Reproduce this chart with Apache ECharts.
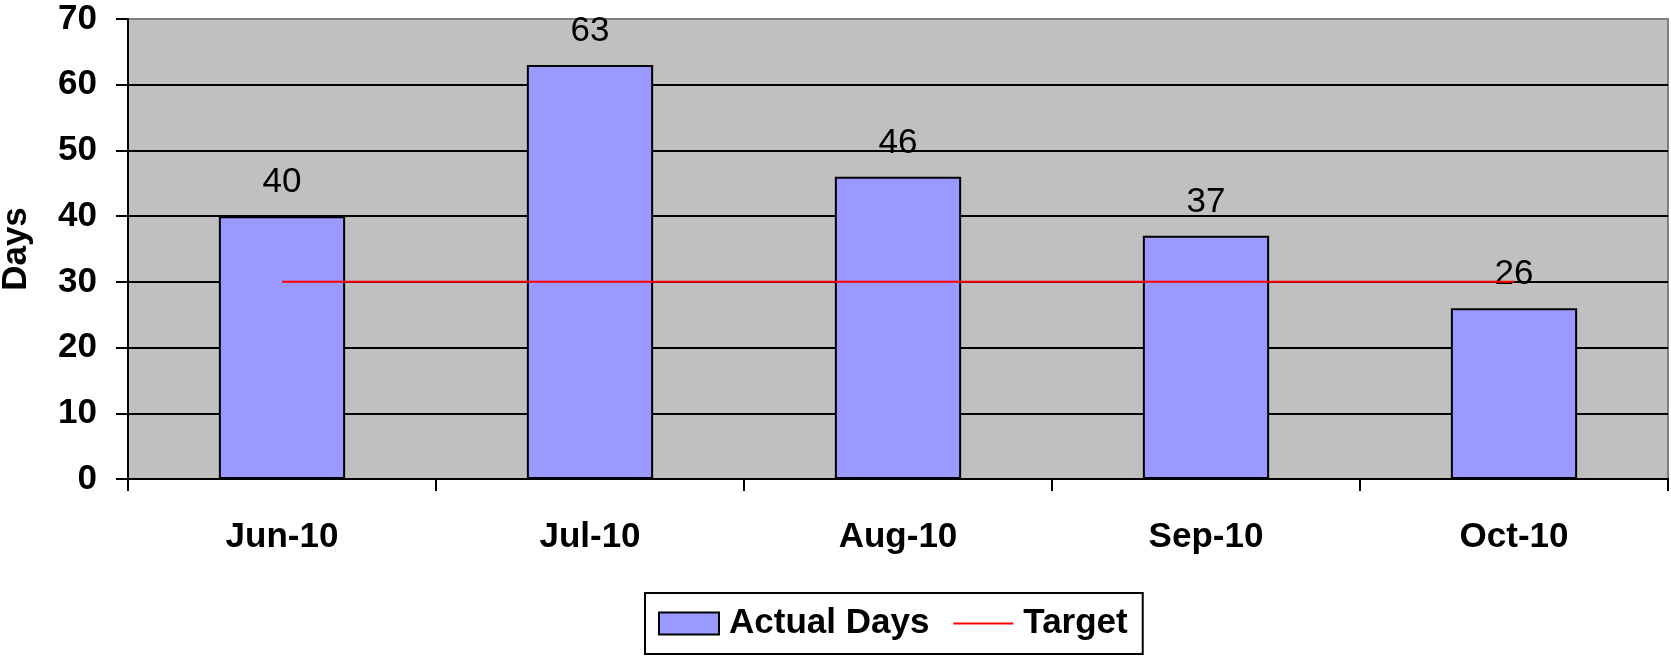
<!DOCTYPE html>
<html>
<head>
<meta charset="utf-8">
<script src="https://cdn.jsdelivr.net/npm/echarts@6/dist/echarts.min.js"></script>
<style>
html,body{margin:0;padding:0;background:#fff;}
#chart{width:1671px;height:656px;}
</style>
</head>
<body>
<div id="chart"></div>
<script>
const categories = ['Jun-10', 'Jul-10', 'Aug-10', 'Sep-10', 'Oct-10'];
const actualDays = [40, 63, 46, 37, 26];
const target = [30, 30, 30, 30, 30];
const yTicks = { min: 0, max: 70, interval: 10 };

const FONT = 'Arial, "Liberation Sans", sans-serif';
const chart = echarts.init(document.getElementById('chart'), null, { renderer: 'canvas' });
chart.setOption({
  animation: false,
  textStyle: { fontFamily: FONT },
  grid: {
    left: 128, right: 3, top: 19, bottom: 177,
    containLabel: false,
    outerBoundsMode: 'none',
    show: true, backgroundColor: '#C0C0C0', borderColor: '#808080', borderWidth: 2
  },
  legend: {
    left: 645, top: 593,
    backgroundColor: '#fff', borderColor: '#000', borderWidth: 2,
    padding: [13, 15, 13, 13],
    itemWidth: 60, itemHeight: 22, itemGap: 23,
    textStyle: { fontFamily: FONT, fontSize: 35, fontWeight: 'bold', color: '#000', padding: [0, 0, 0, 5] },
    data: [
      { name: 'Actual Days', icon: 'rect' },
      { name: 'Target', itemStyle: { color: 'rgba(0,0,0,0)', borderWidth: 0, opacity: 0 } }
    ]
  },
  xAxis: {
    type: 'category',
    data: categories,
    axisLine: { lineStyle: { color: '#000', width: 2 } },
    axisTick: { show: true, length: 12, lineStyle: { color: '#000', width: 2 } },
    axisLabel: { fontFamily: FONT, fontSize: 35, fontWeight: 'bold', color: '#000', margin: 41 }
  },
  yAxis: {
    type: 'value',
    min: yTicks.min, max: yTicks.max, interval: yTicks.interval,
    name: 'Days',
    nameLocation: 'middle',
    nameRotate: 90,
    nameGap: 94,
    nameTextStyle: { fontFamily: FONT, fontSize: 35, fontWeight: 'bold', color: '#000' },
    axisLine: { show: true, lineStyle: { color: '#000', width: 2 } },
    axisTick: { show: true, length: 12, lineStyle: { color: '#000', width: 2 } },
    axisLabel: { fontFamily: FONT, fontSize: 35, fontWeight: 'bold', color: '#000', margin: 31 },
    splitLine: { show: true, lineStyle: { color: ['#000','#000','#000','#000','#000','#000','#000','#808080'], width: 2 } }
  },
  series: [
    {
      name: 'Actual Days',
      type: 'bar',
      data: actualDays,
      barCategoryGap: '59%',
      itemStyle: { color: '#9999FF', borderColor: '#000', borderWidth: 2 },
      label: { show: true, position: 'top', distance: 16, fontFamily: FONT, fontSize: 35, color: '#000' },
      z: 2
    },
    {
      name: 'Target',
      type: 'line',
      data: target,
      symbol: 'none',
      lineStyle: { color: '#FF0000', width: 2 },
      itemStyle: { color: '#FF0000' },
      z: 3
    }
  ]
});
</script>
</body>
</html>
